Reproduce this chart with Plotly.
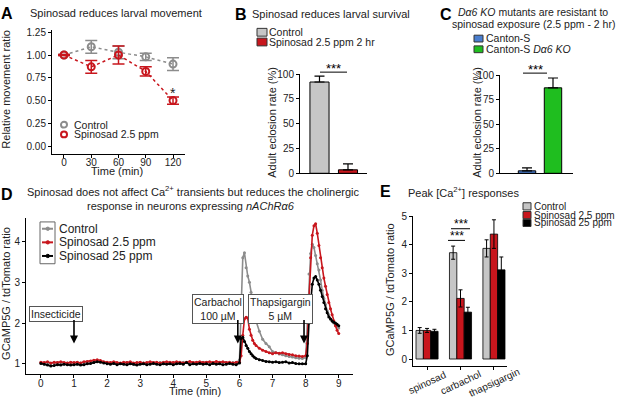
import plotly.graph_objects as go

W, H = 617, 402
FONT = "Liberation Sans, Arial, sans-serif"

GRAY = "#8c8c8c"
RED = "#c8161d"
BAR_GRAY = "#c6c6c6"
BLUE = "#4a7ecf"
GREEN = "#1fbe1f"

# ---- panel A: larval movement ----
a_time = [0, 30, 60, 90, 120]
a_ctrl = [1.00, 1.09, 1.03, 0.98, 0.90]
a_ctrl_err = [0.005, 0.07, 0.07, 0.04, 0.07]
a_spin = [1.00, 0.87, 1.00, 0.82, 0.50]
a_spin_err = [0.005, 0.07, 0.10, 0.05, 0.04]

# ---- panel B: survival ----
b_groups = ["Control", "Spinosad 2.5 ppm 2 hr"]
b_vals = [92, 3.5]
b_err = [6, 6]

# ---- panel C: Da6 KO ----
c_groups = ["Canton-S", "Canton-S Dα6 KO"]
c_vals = [2.5, 87]
c_err = [3, 10]

# ---- panel D: GCaMP traces ----
d_time = [0.0, 0.1, 0.2, 0.3, 0.4, 0.5, 0.6, 0.7, 0.8, 0.9,
          1.0, 1.1, 1.2, 1.3, 1.4, 1.5, 1.6, 1.7, 1.8, 1.9,
          2.0, 2.1, 2.2, 2.3, 2.4, 2.5, 2.6, 2.7, 2.8, 2.9,
          3.0, 3.1, 3.2, 3.3, 3.4, 3.5, 3.6, 3.7, 3.8, 3.9,
          4.0, 4.1, 4.2, 4.3, 4.4, 4.5, 4.6, 4.7, 4.8, 4.9,
          5.0, 5.1, 5.2, 5.3, 5.4, 5.5, 5.6, 5.7, 5.8, 5.9,
          6.0, 6.05, 6.1, 6.15, 6.2, 6.25, 6.3, 6.35, 6.4, 6.45, 6.5, 6.6, 6.7, 6.8, 6.9,
          7.0, 7.1, 7.2, 7.3, 7.4, 7.5, 7.6, 7.7, 7.8, 7.9,
          8.0, 8.05, 8.1, 8.15, 8.2, 8.25, 8.3, 8.35, 8.4, 8.45, 8.5,
          8.55, 8.6, 8.65, 8.7, 8.75, 8.8, 8.85, 8.9, 8.95, 9.0]
d_ctrl = [1.03, 1.02, 1.03, 1.01, 1.02, 1.03, 1.02, 1.01, 1.02, 1.03,
          1.02, 1.03, 1.02, 1.03, 1.04, 1.05, 1.06, 1.07, 1.06, 1.04,
          1.03, 1.02, 1.03, 1.02, 1.01, 1.02, 1.03, 1.02, 1.01, 1.02,
          1.03, 1.02, 1.01, 1.02, 1.03, 1.02, 1.03, 1.04, 1.03, 1.02,
          1.03, 1.02, 1.03, 1.04, 1.03, 1.02, 1.03, 1.02, 1.03, 1.04,
          1.03, 1.04, 1.03, 1.02, 1.03, 1.04, 1.03, 1.02, 1.03, 1.02,
          1.10, 2.40, 3.60, 3.72, 3.35, 3.15, 3.00, 2.75, 2.45, 2.25, 2.05, 1.80, 1.60, 1.50, 1.42,
          1.30, 1.27, 1.24, 1.22, 1.20, 1.18, 1.17, 1.15, 1.14, 1.13,
          1.15, 2.00, 3.20, 3.70, 3.93, 3.85, 3.65, 3.45, 3.30, 3.05, 2.80,
          2.60, 2.45, 2.30, 2.20, 2.10, 2.05, 2.00, 1.95, 1.92, 1.88]
d_spin25 = [1.04, 1.03, 1.05, 1.02, 1.04, 1.03, 1.05, 1.03, 1.02, 1.04,
            1.03, 1.04, 1.02, 1.05, 1.06, 1.07, 1.09, 1.10, 1.08, 1.05,
            1.04, 1.03, 1.05, 1.03, 1.02, 1.04, 1.03, 1.05, 1.02, 1.03,
            1.04, 1.02, 1.03, 1.05, 1.03, 1.04, 1.02, 1.03, 1.05, 1.04,
            1.03, 1.05, 1.04, 1.02, 1.04, 1.06, 1.03, 1.04, 1.05, 1.03,
            1.04, 1.05, 1.03, 1.06, 1.04, 1.05, 1.03, 1.04, 1.02, 1.04,
            1.04, 1.20, 1.70, 2.10, 2.14, 2.12, 1.85, 1.70, 1.58, 1.50, 1.45, 1.38, 1.33, 1.30, 1.27,
            1.25, 1.27, 1.26, 1.27, 1.25, 1.23, 1.22, 1.20, 1.19, 1.18,
            1.20, 1.50, 2.60, 3.60, 4.15, 4.38, 4.43, 4.20, 3.90, 3.60, 3.35,
            3.10, 2.90, 2.70, 2.50, 2.35, 2.20, 2.05, 1.93, 1.82, 1.74]
d_spin250 = [1.01, 0.99, 0.97, 0.95, 0.96, 0.98, 0.97, 0.99, 0.98, 0.97,
             0.98, 0.99, 0.97, 0.98, 1.00, 1.01, 1.03, 1.05, 1.04, 1.02,
             1.00, 0.99, 1.01, 0.98, 1.00, 0.99, 0.98, 1.00, 0.99, 0.97,
             0.99, 1.00, 0.98, 0.99, 1.01, 0.99, 0.98, 1.00, 0.99, 1.00,
             0.98, 1.00, 1.01, 0.99, 1.03, 0.98, 1.00, 0.99, 1.01, 0.99,
             1.00, 0.98, 1.01, 0.99, 1.00, 0.98, 0.99, 1.01, 0.99, 0.98,
             1.02, 1.62, 1.65, 1.55, 1.45, 1.38, 1.30, 1.25, 1.20, 1.16, 1.13, 1.10, 1.08, 1.06, 1.05,
             1.04, 1.05, 1.03, 1.04, 1.05, 1.02, 1.03, 1.01, 1.00, 1.00,
             1.00, 1.20, 2.00, 2.60, 2.95, 3.10, 3.14, 3.05, 2.95, 2.80, 2.65,
             2.50, 2.35, 2.25, 2.15, 2.10, 2.05, 2.02, 2.00, 1.97, 1.93]

# ---- panel E: peak responses ----
e_cats = ["spinosad", "carbachol", "thapsigargin"]
e_ctrl = [1.00, 3.72, 3.87]
e_ctrl_err = [0.10, 0.23, 0.30]
e_s25 = [1.00, 2.12, 4.37]
e_s25_err = [0.07, 0.30, 0.50]
e_s250 = [0.97, 1.64, 3.12]
e_s250_err = [0.07, 0.17, 0.45]


def fx(p):
    return p / W


def fy(p):
    return 1 - p / H


fig = go.Figure()

# A
for vals, err, col in [(a_ctrl, a_ctrl_err, GRAY), (a_spin, a_spin_err, RED)]:
    fig.add_trace(go.Scatter(
        x=a_time, y=vals, mode="lines+markers", xaxis="x", yaxis="y",
        line=dict(color=col, dash="dot", width=1.5),
        marker=dict(symbol="circle-open", size=7, color=col, line=dict(width=2, color=col)),
        error_y=dict(type="data", array=err, width=6, thickness=1.5, color=col),
        showlegend=False))

# B
fig.add_trace(go.Bar(
    x=b_groups, y=b_vals, width=0.67, xaxis="x2", yaxis="y2",
    marker=dict(color=[BAR_GRAY, RED], line=dict(color="black", width=1)),
    error_y=dict(type="data", array=b_err, arrayminus=[0, 0], symmetric=False,
                 width=5, thickness=1.2, color="black"),
    showlegend=False))

# C
fig.add_trace(go.Bar(
    x=c_groups, y=c_vals, width=0.67, xaxis="x3", yaxis="y3",
    marker=dict(color=[BLUE, GREEN], line=dict(color="black", width=1)),
    error_y=dict(type="data", array=c_err, arrayminus=[0, 0], symmetric=False,
                 width=5, thickness=1.2, color="black"),
    showlegend=False))

# D
for vals, col in [(d_ctrl, GRAY), (d_spin25, RED), (d_spin250, "black")]:
    fig.add_trace(go.Scatter(
        x=d_time, y=vals, mode="lines+markers", xaxis="x4", yaxis="y4",
        line=dict(color=col, width=1.6), marker=dict(color=col, size=3),
        showlegend=False))

# E
for vals, err, col in [(e_ctrl, e_ctrl_err, BAR_GRAY), (e_s25, e_s25_err, RED),
                       (e_s250, e_s250_err, "black")]:
    fig.add_trace(go.Bar(
        x=e_cats, y=vals, xaxis="x5", yaxis="y5",
        marker=dict(color=col, line=dict(color="black", width=0.8)),
        error_y=dict(type="data", array=err, width=2, thickness=1, color="black"),
        showlegend=False))

axis_common = dict(showline=True, linecolor="black", linewidth=1, showgrid=False,
                   zeroline=False, ticks="outside", ticklen=3, tickcolor="black",
                   tickfont=dict(size=10, color="#222"))


def ax(**kw):
    d = dict(axis_common)
    d.update(kw)
    return d


annotations = []
shapes = []


def text(t, x, y, size=10.5, anchor="center", **kw):
    annotations.append(dict(text=t, x=fx(x), y=fy(y), xref="paper", yref="paper",
                            showarrow=False, xanchor=anchor, yanchor="middle",
                            font=dict(size=size, color=kw.pop("color", "#222")), **kw))


def hline(x0, x1, y, color="black", width=1):
    shapes.append(dict(type="line", xref="paper", yref="paper", x0=fx(x0), x1=fx(x1),
                       y0=fy(y), y1=fy(y), line=dict(color=color, width=width)))


def square(x0, y0, x1, y1, color):
    shapes.append(dict(type="rect", xref="paper", yref="paper", x0=fx(x0), x1=fx(x1),
                       y0=fy(y0), y1=fy(y1), fillcolor=color, line=dict(color="#333", width=1)))


# panel letters & titles
for lab, x, y in [("A", 7, 8), ("B", 241, 9), ("C", 446, 9), ("D", 7, 194), ("E", 385, 191)]:
    text("<b>" + lab + "</b>", x, y, size=16, color="black")
text("Spinosad reduces larval movement", 116, 7, size=11)
text("Spinosad reduces larval survival", 250, 8, size=11, anchor="left")
text("<i>Dα6 KO</i> mutants are resistant to", 533, 6, size=10.5)
text("spinosad exposure (2.5 ppm - 2 hr)", 533, 18, size=10.5)
text("Spinosad does not affect Ca<sup>2+</sup> transients but reduces the cholinergic", 193, 190, size=11)
text("response in neurons expressing <i>nAChRα6</i>", 191, 206, size=11)
text("Peak [Ca<sup>2+</sup>] responses", 406, 191, size=11, anchor="left")

# axis titles
text("Relative movement ratio", 6, 86, size=11, textangle=-90)
text("Time (min)", 117, 170, size=11)
text("Adult eclosion rate (%)", 272, 120, size=11, textangle=-90)
text("Adult eclosion rate (%)", 477, 120, size=11, textangle=-90)
text("GCaMP5G / tdTomato ratio", 6, 296, size=11, textangle=-90)
text("Time (min)", 195, 396, size=11)
text("GCaMP5G / tdTomato ratio", 390, 292, size=11, textangle=-90)

# A legend
for y, col, lab in [(122, GRAY, "Control"), (132, RED, "Spinosad 2.5 ppm")]:
    shapes.append(dict(type="circle", xref="paper", yref="paper", x0=fx(61), x1=fx(67),
                       y0=fy(y + 3), y1=fy(y - 3), line=dict(color=col, width=2)))
    text(lab, 72, y, anchor="left")
text("*", 120, 0.0, size=14)
annotations[-1].update(x=120, y=0.585, xref="x", yref="y")

# B legend & sig
square(257, 23, 267, 31, BAR_GRAY)
square(257, 33, 267, 41, RED)
text("Control", 267, 27, anchor="left")
text("Spinosad 2.5 ppm 2 hr", 267, 37, anchor="left")
hline(320, 347, 68)
text("***", 333.5, 64, size=13, color="black")

# C legend & sig
square(474, 30, 483, 37, BLUE)
square(474, 41, 483, 48, GREEN)
text("Canton-S", 484, 33, anchor="left")
text("Canton-S <i>Dα6 KO</i>", 484, 44, anchor="left")
hline(523, 547, 69)
text("***", 535, 65, size=13, color="black")

# D legend
shapes.append(dict(type="rect", xref="paper", yref="paper", x0=fx(40), x1=fx(55),
                   y0=fy(265), y1=fy(222), line=dict(color="#666", width=1)))
for y, col, lab in [(229, GRAY, "Control"), (243, RED, "Spinosad 2.5 ppm"),
                    (257, "black", "Spinosad 25 ppm")]:
    hline(42, 53, y, color=col, width=2)
    shapes.append(dict(type="circle", xref="paper", yref="paper", x0=fx(46), x1=fx(49.5),
                       y0=fy(y + 1.7), y1=fy(y - 1.7), fillcolor=col, line=dict(color=col, width=1)))
    text(lab, 57, y, size=12, anchor="left")

# D stimulus boxes and arrows
for lab, x, y in [("Insecticide", 56, 317), ("Carbachol<br>100 µM", 218, 312),
                  ("Thapsigargin<br>5 µM", 280, 312)]:
    text(lab, x, y, size=10.5, bordercolor="#555", borderwidth=1, borderpad=1, bgcolor="white")
for t in [1.0, 5.95, 7.95]:
    annotations.append(dict(x=t, y=1.5, xref="x4", yref="y4", ax=0, ay=-25, text="",
                            showarrow=True, arrowhead=2, arrowsize=1, arrowwidth=1.6,
                            arrowcolor="black"))

# E legend & sig
for y, col, lab in [(206, BAR_GRAY, "Control"), (215, RED, "Spinosad 2.5 ppm"),
                    (223, "black", "Spinosad 25 ppm")]:
    square(523, y - 3.7, 531, y + 3.7, col)
    text(lab, 532, y, size=10, anchor="left")
hline(451, 470, 229)
text("***", 460.5, 224, size=12, color="black")
hline(448, 465, 241)
text("***", 456.5, 236, size=12, color="black")
for c in e_cats:
    annotations.append(dict(text=c, x=c, y=fy(387), xref="x5", yref="paper", showarrow=False,
                            textangle=-25, xanchor="center", yanchor="middle",
                            font=dict(size=10, color="#222")))

fig.update_layout(
    width=W, height=H, margin=dict(l=0, r=0, t=0, b=0),
    paper_bgcolor="white", plot_bgcolor="white",
    font=dict(family=FONT, size=10.5, color="#222"),
    barmode="group", bargap=0.34, bargroupgap=0,
    xaxis=ax(domain=[fx(52), fx(185)], range=[-13.2, 133.2], tickvals=a_time, anchor="y",
             ticklabelstandoff=-4),
    yaxis=ax(domain=[fy(152), fy(25)], range=[-0.085, 1.271],
             tickvals=[0, 0.25, 0.5, 0.75, 1.0, 1.25], tickformat=".2f", anchor="x"),
    xaxis2=ax(domain=[fx(300), fx(367)], range=[-0.684, 1.667], ticks="",
              showticklabels=False, anchor="y2"),
    yaxis2=ax(domain=[fy(172), fy(70)], range=[0, 100], tickvals=[0, 25, 50, 75, 100], anchor="x2"),
    xaxis3=ax(domain=[fx(500), fx(573)], range=[-1.04, 1.77], ticks="",
              showticklabels=False, anchor="y3"),
    yaxis3=ax(domain=[fy(172), fy(71)], range=[0, 100], tickvals=[0, 25, 50, 75, 100], anchor="x3"),
    xaxis4=ax(domain=[fx(26), fx(353)], range=[-0.45, 9.43], tickvals=list(range(10)), anchor="y4",
              ticklabelstandoff=-3),
    yaxis4=ax(domain=[fy(378), fy(218)], range=[0.76, 4.57], tickvals=[1, 2, 3, 4], anchor="x4"),
    xaxis5=ax(domain=[fx(413), fx(507)], range=[-0.42, 2.39], showticklabels=False, anchor="y5"),
    yaxis5=ax(domain=[fy(370), fy(216)], range=[-0.24, 5.0], tickvals=[0, 1, 2, 3, 4, 5], anchor="x5"),
    annotations=annotations, shapes=shapes,
)

# the page body has a default margin; drop it so the figure sits at the window origin
fig.write_html("out.html", config={"displayModeBar": False},
               post_script="document.body.style.margin='0';")
